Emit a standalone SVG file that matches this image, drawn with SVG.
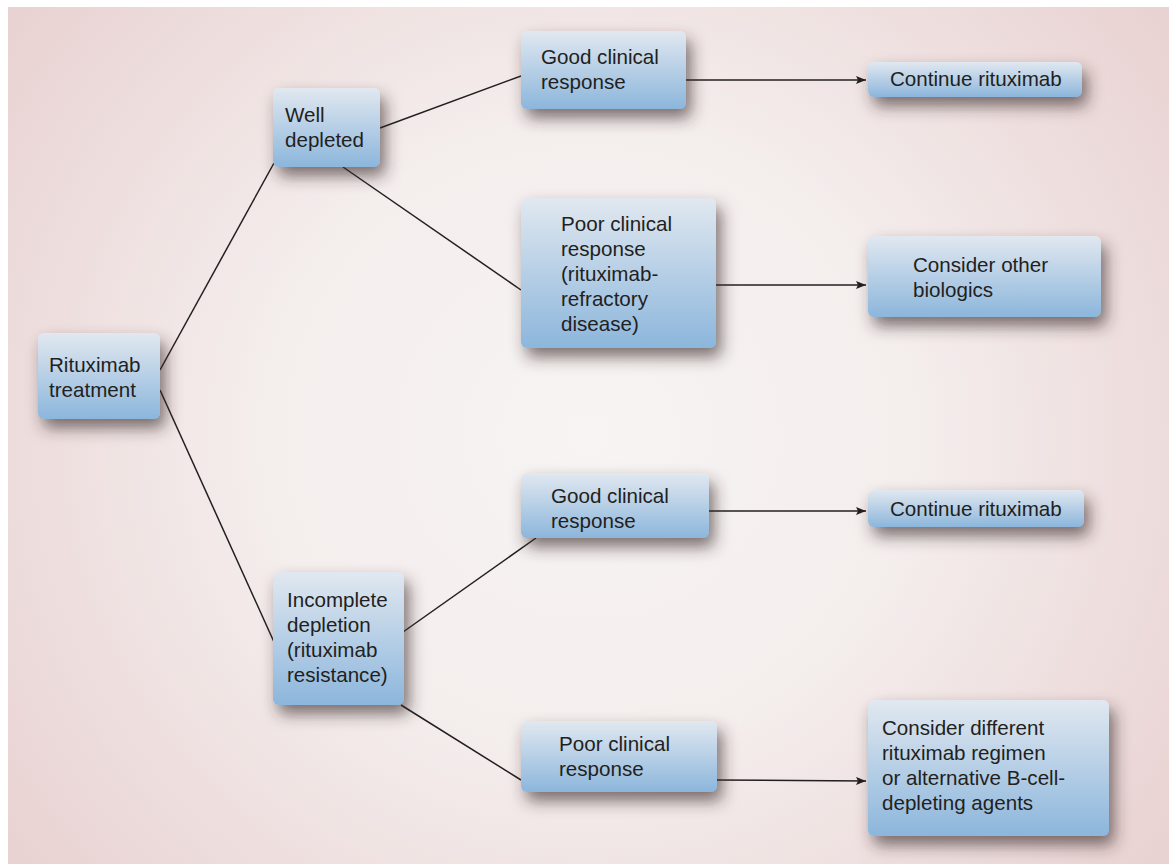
<svg xmlns="http://www.w3.org/2000/svg" width="1169" height="864" viewBox="0 0 1169 864">
<defs>
<radialGradient id="bg" cx="0.5" cy="0.5" r="0.62" gradientTransform="translate(0.5 0.5) scale(1 1.3) translate(-0.5 -0.5)">
<stop offset="0" stop-color="#f7f4f3"/>
<stop offset="0.45" stop-color="#f4eeed"/>
<stop offset="1" stop-color="#e9d2d2"/>
</radialGradient>
<linearGradient id="box" x1="0" y1="0" x2="0" y2="1">
<stop offset="0" stop-color="#e1e8f0"/>
<stop offset="1" stop-color="#8cb6dc"/>
</linearGradient>
<filter id="sh" filterUnits="userSpaceOnUse" x="0" y="0" width="1169" height="864">
<feDropShadow dx="5" dy="9" stdDeviation="8" flood-color="#3a2a2a" flood-opacity="0.65"/>
</filter>
<marker id="arr" viewBox="0 0 10 8" refX="10" refY="4" markerWidth="10" markerHeight="8" markerUnits="userSpaceOnUse" orient="auto">
<path d="M0,0 L10,4 L0,8 L2,4 z" fill="#231f20"/>
</marker>
<style>
.n rect{fill:url(#box);filter:url(#sh)}
.n text{font-family:"Liberation Sans",Arial,sans-serif;font-size:20.6px;fill:#231f20}
.c line{stroke:#231f20;stroke-width:1.5;fill:none}
.c .a{marker-end:url(#arr)}
</style>
</defs>
<rect x="0" y="0" width="1169" height="864" fill="#ffffff"/>
<rect x="8" y="7" width="1161" height="857" fill="url(#bg)"/>
<g id="connectors" class="c">
<line x1="160" y1="370" x2="274" y2="163"/>
<line x1="160" y1="390" x2="274" y2="642"/>
<line x1="380" y1="128" x2="521" y2="76"/>
<line x1="343" y1="167" x2="521" y2="290"/>
<line x1="403" y1="632" x2="536" y2="538"/>
<line x1="401" y1="705" x2="521" y2="780"/>
<line class="a" x1="686" y1="80" x2="866" y2="80"/>
<line class="a" x1="716" y1="285" x2="866" y2="285"/>
<line class="a" x1="709" y1="511" x2="866" y2="511"/>
<line class="a" x1="717" y1="780" x2="866" y2="781"/>
</g>
<g id="n1" class="n"><rect x="38" y="333" width="122" height="86" rx="6"/><text x="49" y="372">Rituximab</text><text x="49" y="397">treatment</text></g>
<g id="n2" class="n"><rect x="273" y="88" width="107" height="79" rx="6"/><text x="285" y="122">Well</text><text x="285" y="147">depleted</text></g>
<g id="n3" class="n"><rect x="521" y="31" width="165" height="78" rx="6"/><text x="541" y="64">Good clinical</text><text x="541" y="89">response</text></g>
<g id="n4" class="n"><rect x="868" y="62" width="214" height="35" rx="6"/><text x="890" y="86">Continue rituximab</text></g>
<g id="n5" class="n"><rect x="521" y="198" width="195" height="150" rx="6"/><text x="561" y="231">Poor clinical</text><text x="561" y="256">response</text><text x="561" y="281">(rituximab-</text><text x="561" y="306">refractory</text><text x="561" y="331">disease)</text></g>
<g id="n6" class="n"><rect x="868" y="236" width="233" height="81" rx="6"/><text x="913" y="272">Consider other</text><text x="913" y="297">biologics</text></g>
<g id="n7" class="n"><rect x="521" y="473" width="188" height="65" rx="6"/><text x="551" y="503">Good clinical</text><text x="551" y="528">response</text></g>
<g id="n8" class="n"><rect x="868" y="490" width="216" height="37" rx="6"/><text x="890" y="516">Continue rituximab</text></g>
<g id="n9" class="n"><rect x="273" y="572" width="131" height="133" rx="6"/><text x="287" y="607">Incomplete</text><text x="287" y="632">depletion</text><text x="287" y="657">(rituximab</text><text x="287" y="682">resistance)</text></g>
<g id="n10" class="n"><rect x="521" y="721" width="196" height="71" rx="6"/><text x="559" y="751">Poor clinical</text><text x="559" y="776">response</text></g>
<g id="n11" class="n"><rect x="868" y="700" width="241" height="136" rx="6"/><text x="882" y="735">Consider different</text><text x="882" y="760">rituximab regimen</text><text x="882" y="785">or alternative B-cell-</text><text x="882" y="810">depleting agents</text></g>
</svg>
